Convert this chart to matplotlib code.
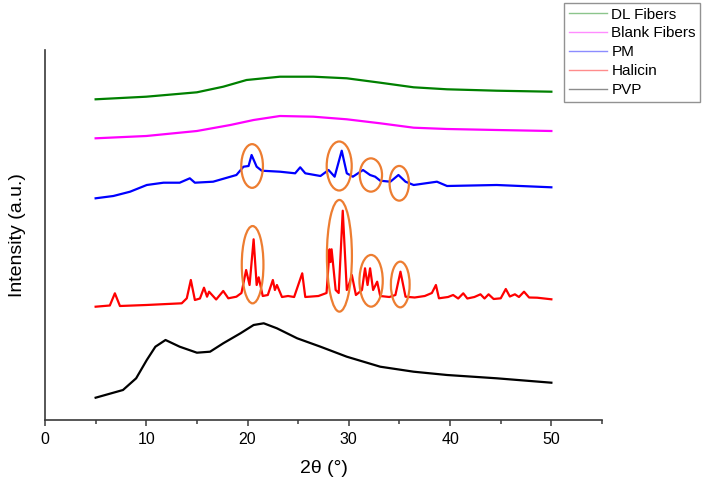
import matplotlib
matplotlib.use("Agg")
import matplotlib.pyplot as plt
from matplotlib.patches import Ellipse
import numpy as np

plt.rcParams['font.family'] = ['Liberation Sans', 'DejaVu Sans']

# ---- data (2theta in degrees, intensity in arbitrary stacked units) ----
dl_x = [5, 10, 15, 17.6, 19.9, 23.2, 26.5, 29.8, 33.1, 36.4, 39.7, 44.6, 50]
dl_y = [320.7, 323.3, 327.7, 333.3, 340, 343.3, 343.3, 341.7, 337.3, 332.7, 330.7, 329.3, 328.3]

blank_x = [5, 10, 15, 18.3, 20.6, 23.2, 26.5, 29.8, 33.1, 36.4, 39.7, 44.6, 50]
blank_y = [281.7, 284, 289, 295, 300, 304, 303.3, 300.7, 296.7, 292.3, 291, 290, 289]

pm_x = [5.0, 6.75, 8.4, 10.05, 11.7, 13.3, 14.3, 14.8, 16.6, 18.9, 19.6, 20.1, 20.4, 20.9,
        21.4, 23.2, 24.7, 25.2, 25.7, 27.2, 28.0, 28.6, 29.3, 29.8, 30.4, 31.4, 32.1, 32.6,
        33.1, 34.1, 34.9, 35.6, 36.4, 38.7, 39.7, 44.6, 50.0]
pm_y = [221.7, 224, 228.3, 235, 237.3, 237.3, 241.7, 237.3, 238.3, 245, 253.3, 254, 265, 253.3,
        249.3, 248.3, 246.7, 252.7, 246.7, 244, 250, 243.3, 269.3, 246.7, 243.3, 250, 245, 243.3,
        239.3, 238.3, 245, 238.3, 235, 238.3, 234, 235, 232.7]

hal_x = [5.0, 6.4, 6.9, 7.4, 10, 13.5, 14.0, 14.4, 14.8, 15.3, 15.7, 16.0, 16.2, 16.9, 17.6,
         18.1, 18.9, 19.4, 19.86, 20.2, 20.6, 20.9, 21.1, 21.5, 22.0, 22.5, 22.7, 22.9, 23.4,
         24.0, 24.6, 25.4, 25.7, 27.0, 27.8, 28.1, 28.2, 28.3, 28.7, 29.0, 29.4, 29.8, 30.0,
         30.3, 30.7, 31.3, 31.6, 31.85, 32.1, 32.4, 32.8, 33.1, 34.0, 34.6, 35.1, 35.6, 36.5,
         37.5, 38.2, 38.6, 38.9, 39.8, 40.3, 40.8, 41.3, 41.7, 42.4, 43.0, 43.4, 43.8, 44.3,
         45.0, 45.5, 45.9, 46.4, 46.8, 47.3, 47.8, 48.6, 50.0]
hal_y = [113.3, 114.5, 126.7, 114, 115, 116.7, 121.7, 140, 120, 121.5, 132.3, 123.3, 128.3,
         120.5, 129, 121.7, 123.3, 127, 150, 135, 180.7, 135, 142.7, 124, 125, 140, 130, 135,
         123, 124, 123, 146.7, 123, 124, 127, 170.7, 158, 170.7, 130, 127, 209.3, 130, 135,
         145, 125, 130, 151.7, 135, 151.7, 130, 138.3, 124, 123, 125, 148.3, 123.3, 122.5,
         124, 127, 135, 121.7, 123, 125, 121.5, 126.7, 121.5, 123, 125.7, 121.5, 125.7, 121,
         121.7, 131, 123.5, 125.7, 123, 128.3, 122.5, 122.3, 120.7]

pvp_x = [5.0, 7.7, 9.0, 10.05, 10.9, 11.9, 13.3, 15.0, 16.3, 17.6, 19.3, 20.6, 21.6, 22.9,
         24.9, 27.2, 29.8, 33.1, 36.4, 39.7, 44.6, 50.0]
pvp_y = [22.3, 30, 41.7, 60, 73.3, 80, 73.3, 67.3, 68.3, 76.7, 86.7, 95, 96.7, 91.7,
         81.7, 73.3, 63.3, 53.3, 48.3, 45, 41.7, 37.3]

series_labels = ['DL Fibers', 'Blank Fibers', 'PM', 'Halicin', 'PVP']
series_colors = ['#008000', '#FF00FF', '#0000FF', '#FF0000', '#000000']

x_ticks = [0, 10, 20, 30, 40, 50]

# highlighted regions (center 2theta, center intensity, width, height)
pm_marks = [(20.45, 254, 2.14, 43.7), (29.05, 254, 2.47, 49),
            (32.18, 245, 2.2, 33.3), (34.98, 236.7, 1.91, 34.7)]
hal_marks = [(20.5, 155.3, 2.14, 77.3), (29.07, 164.2, 2.47, 111.7),
             (32.2, 139.2, 2.3, 51.7), (35.08, 135.5, 1.85, 45.7)]

# ---- figure ----
fig = plt.figure(figsize=(7.12, 4.87), dpi=100)
ax = fig.add_axes([45 / 712, 67 / 487, 557 / 712, 370 / 487])

data = [(dl_x, dl_y), (blank_x, blank_y), (pm_x, pm_y), (hal_x, hal_y), (pvp_x, pvp_y)]
for (xs, ys), lab, col in zip(data, series_labels, series_colors):
    ax.plot(xs, ys, color=col, lw=1.6, label=lab, solid_joinstyle='round')

for cx, cy, w, h in pm_marks + hal_marks:
    ax.add_patch(Ellipse((cx, cy), w, h, fill=False, edgecolor='#ED7D31', lw=1.6, zorder=5))

ax.set_xlim(0, 55)
ax.set_ylim(0, 370)
ax.set_xticks(x_ticks)
ax.set_xticks(np.arange(5, 56, 10), minor=True)
ax.set_yticks([])
for s in ['top', 'right']:
    ax.spines[s].set_visible(False)
for s in ['left', 'bottom']:
    ax.spines[s].set_color('#3a3a3a')
    ax.spines[s].set_linewidth(1.2)
ax.tick_params(axis='x', which='major', length=4, width=1.1, color='#3a3a3a',
               labelsize=11.5, pad=5)
ax.tick_params(axis='x', which='minor', length=3, width=1.1, color='#3a3a3a')
ax.set_xlabel('2θ (°)', fontsize=14, labelpad=9)
ax.set_ylabel('Intensity (a.u.)', fontsize=14, labelpad=14)

leg = ax.legend(loc='upper left', bbox_to_anchor=(564 / 712, 484 / 487),
                bbox_transform=fig.transFigure, fontsize=11, frameon=True,
                fancybox=False, edgecolor='#777777', borderpad=0.3,
                labelspacing=0.32, handlelength=2.5, handletextpad=0.3,
                borderaxespad=0)
leg.get_frame().set_linewidth(1.0)
for h in leg.get_lines():
    h.set_alpha(0.45)
    h.set_linewidth(1.0)

fig.savefig('out.png', dpi=100)
